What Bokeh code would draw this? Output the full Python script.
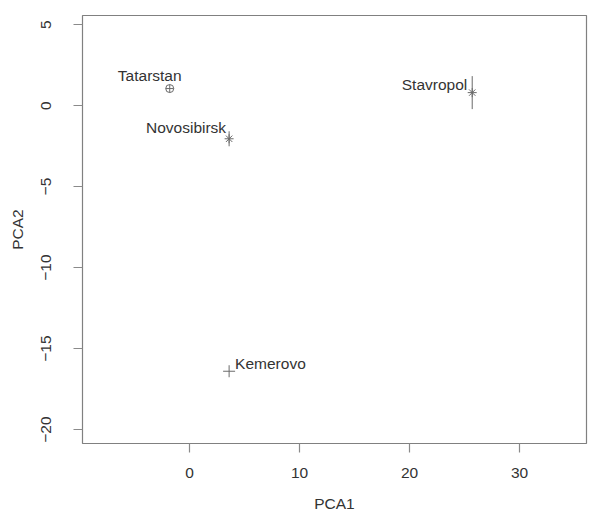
import math
from bokeh.plotting import figure
from bokeh.models import ColumnDataSource, Range1d, FixedTicker
from bokeh.core.properties import value
from bokeh.embed import file_html
from bokeh.resources import INLINE

# ---- data ----
regions = ["Tatarstan", "Novosibirsk", "Stavropol", "Kemerovo"]
pca1 = [-1.8, 3.6, 25.7, 3.6]
pca2 = [1.05, -2.05, 0.8, -16.4]
x_ticks = [0, 10, 20, 30]
y_ticks = [-20, -15, -10, -5, 0, 5]

# ---- styles (label placement, marker shapes) ----
markers = ["circle_cross", "asterisk", "asterisk", "cross"]
marker_sizes = [8, 9, 9, 12]
bar_sizes = [0, 15, 33, 0]
label_align = ["center", "right", "right", "left"]
label_dx = [-20, -3, -5, 6]
label_dy = [-13, -11, -8, -8]

FONT = "Liberation Sans"
TXT = "#333333"
MK = "#6a6a6a"

src = ColumnDataSource(dict(x=pca1, y=pca2, name=regions, marker=markers,
                            size=marker_sizes, bar=bar_sizes, align=label_align,
                            dx=label_dx, dy=label_dy))

p = figure(width=592, height=517, output_backend="svg", toolbar_location=None,
           x_range=Range1d(-9.73, 36.09), y_range=Range1d(-20.86, 5.56),
           min_border_left=82, min_border_right=6, min_border_top=15,
           min_border_bottom=74, background_fill_color="white",
           border_fill_color="white")

p.grid.visible = False
p.outline_line_color = "#808080"
p.outline_line_width = 1.2

for ax in (p.xaxis[0], p.yaxis[0]):
    ax.axis_line_color = None
    ax.major_tick_line_color = "#8a8a8a"
    ax.major_tick_line_width = 1.2
    ax.major_tick_out = 9
    ax.major_tick_in = 0
    ax.minor_tick_line_color = None
    ax.major_label_text_font = FONT
    ax.major_label_text_font_size = "15.5px"
    ax.major_label_text_color = TXT
    ax.axis_label_text_font = FONT
    ax.axis_label_text_font_size = "15.5px"
    ax.axis_label_text_font_style = "normal"
    ax.axis_label_text_color = TXT

p.xaxis.ticker = FixedTicker(ticks=x_ticks)
p.yaxis.ticker = FixedTicker(ticks=y_ticks)
p.xaxis.axis_label = "PCA1"
p.yaxis.axis_label = "PCA2"
p.xaxis.major_label_standoff = 15
p.xaxis.axis_label_standoff = 14
p.yaxis.major_label_orientation = "vertical"
p.yaxis.major_label_standoff = 22
p.yaxis.axis_label_standoff = 13

# vertical bars through some points
p.scatter("x", "y", source=src, marker="dash", size="bar", angle=math.pi / 2,
          line_color=MK, line_width=1)
p.scatter("x", "y", source=src, marker="marker", size="size",
          line_color=MK, fill_color=None, line_width=1)

p.text("x", "y", text="name", source=src, x_offset="dx", y_offset="dy",
       text_align="align", text_baseline="middle", text_font=value(FONT),
       text_font_size="15.5px", text_color=TXT)

open("out.html", "w").write(file_html(p, INLINE))
